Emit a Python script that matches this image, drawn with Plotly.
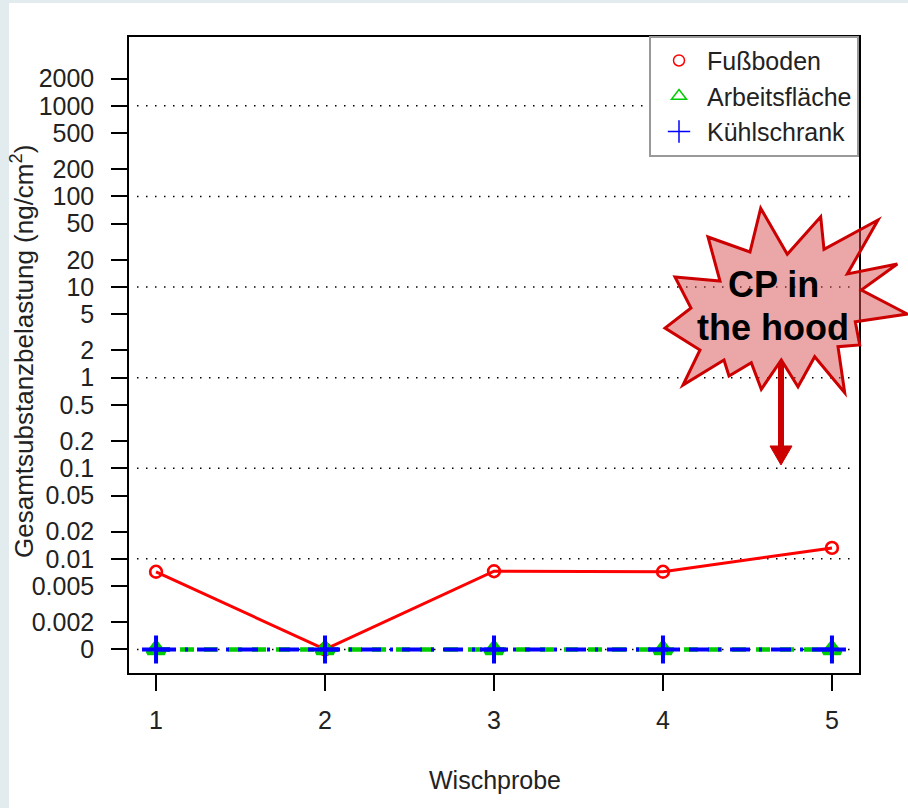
import plotly.graph_objects as go

# ---------------- data ----------------
samples = [1, 2, 3, 4, 5]
fussboden = [0.0072, 0.0, 0.0073, 0.0072, 0.0132]
arbeitsflaeche = [0.0, 0.0, 0.0, 0.0, 0.0]
kuehlschrank = [0.0, 0.0, 0.0, 0.0, 0.0]
series_names = ["Fußboden", "Arbeitsfläche", "Kühlschrank"]
ZERO_POS = 0.001  # where the "0" label sits on the log axis

y_tick_vals = [2000, 1000, 500, 200, 100, 50, 20, 10, 5, 2, 1, 0.5, 0.2, 0.1,
               0.05, 0.02, 0.01, 0.005, 0.002, 0.001]
y_tick_text = ["2000", "1000", "500", "200", "100", "50", "20", "10", "5", "2",
               "1", "0.5", "0.2", "0.1", "0.05", "0.02", "0.01", "0.005",
               "0.002", "0"]
grid_vals = [1000, 100, 10, 1, 0.1, 0.01, 0.001]
x_tick_vals = [1, 2, 3, 4, 5]
x_title = "Wischprobe"
y_title = "Gesamtsubstanzbelastung (ng/cm<sup>2</sup>)"
burst_text = ["CP in", "the hood"]

# ---------------- layout geometry ----------------
W, H = 908, 808
ML, MR, MT, MB = 129, 49, 37, 135
PW, PH = W - ML - MR, H - MT - MB


def px(x):
    return (x - ML) / PW


def py(y):
    return (H - MB - y) / PH


def zmap(v):
    return [ZERO_POS if val == 0 else val for val in v]


FONT = "Liberation Sans, Arial, Helvetica, sans-serif"
RED, GREEN, BLUE = "#ff0000", "#00cd00", "#0000ff"

fig = go.Figure()

# legend markers (thin, drawn underneath the thick plotted markers)
fig.add_trace(go.Scatter(x=samples, y=zmap(fussboden), mode="markers", name=series_names[0],
                         marker=dict(symbol="circle-open", size=11, color=RED, line=dict(width=1.5))))
fig.add_trace(go.Scatter(x=samples, y=zmap(arbeitsflaeche), mode="markers", name=series_names[1],
                         marker=dict(symbol="triangle-up-open", size=13, color=GREEN, line=dict(width=1.5))))
fig.add_trace(go.Scatter(x=samples, y=zmap(kuehlschrank), mode="markers", name=series_names[2],
                         marker=dict(symbol="cross-thin", size=17, color=BLUE,
                                     line=dict(width=1.5, color=BLUE))))

# actual plotted series
fig.add_trace(go.Scatter(x=samples, y=zmap(fussboden), mode="lines+markers", showlegend=False,
                         line=dict(color=RED, width=3),
                         marker=dict(symbol="circle-open", size=12, color=RED, line=dict(width=2.4))))
fig.add_trace(go.Scatter(x=samples, y=zmap(arbeitsflaeche), mode="lines+markers", showlegend=False,
                         line=dict(color=GREEN, width=4.5, dash="14px,10px"),
                         marker=dict(symbol="triangle-up-open", size=15, color=GREEN, line=dict(width=4))))
fig.add_trace(go.Scatter(x=samples, y=zmap(kuehlschrank), mode="lines+markers", showlegend=False,
                         line=dict(color=BLUE, width=4, dash="20px,9px,3px,9px"),
                         marker=dict(symbol="cross-thin", size=20, color=BLUE,
                                     line=dict(width=4, color=BLUE))))

shapes = []
# white panel on light page background
shapes.append(dict(type="rect", xref="paper", yref="paper", x0=px(9), x1=px(W + 5),
                   y0=py(H + 5), y1=py(3), fillcolor="white", line=dict(width=0), layer="below"))
# dotted reference lines
for g in grid_vals:
    shapes.append(dict(type="line", xref="paper", yref="y", x0=px(137), x1=px(855), y0=g, y1=g,
                       line=dict(color="black", width=1.5, dash="1.5px,7.5px"), layer="below"))

# starburst callout
burst = [(760.7, 208.3), (787.3, 254.3), (820.7, 216.7), (824, 249.3), (878, 220), (847.3, 274),
         (897.3, 264), (861.3, 290), (907.3, 314), (855.3, 321.7), (859.7, 345), (838, 346.7),
         (844.7, 392.7), (814.7, 356.7), (798, 386.7), (781.3, 360), (761.3, 389.3), (751.3, 362.7),
         (729, 376), (724, 360), (683, 385), (700, 350), (665, 328), (691, 308), (675, 277),
         (720, 281), (708, 237), (750, 252)]
path = "M " + " L ".join(f"{px(a):.5f},{py(b):.5f}" for a, b in burst) + " Z"
shapes.append(dict(type="path", xref="paper", yref="paper", path=path,
                   fillcolor="rgba(215,80,80,0.5)", line=dict(color="#cc0000", width=3), layer="above"))
# arrow
shapes.append(dict(type="line", xref="paper", yref="paper", x0=px(781), x1=px(781),
                   y0=py(362), y1=py(448), line=dict(color="#cc0000", width=6), layer="above"))
tri = [(770, 446), (792, 446), (781, 465)]
shapes.append(dict(type="path", xref="paper", yref="paper",
                   path="M " + " L ".join(f"{px(a):.5f},{py(b):.5f}" for a, b in tri) + " Z",
                   fillcolor="#cc0000", line=dict(color="#cc0000", width=1), layer="above"))

annotations = [
    dict(text=burst_text[0], xref="paper", yref="paper", x=px(773), y=py(284), showarrow=False,
         xanchor="center", yanchor="middle", font=dict(family=FONT, size=36, color="black", weight="bold")),
    dict(text=burst_text[1], xref="paper", yref="paper", x=px(773), y=py(327), showarrow=False,
         xanchor="center", yanchor="middle", font=dict(family=FONT, size=36, color="black", weight="bold")),
    dict(text=x_title, xref="paper", yref="paper", x=px(495), y=py(780), showarrow=False,
         xanchor="center", yanchor="middle", font=dict(family=FONT, size=25, color="#222222")),
    dict(text=y_title, xref="paper", yref="paper", x=px(23), y=py(352), showarrow=False, textangle=-90,
         xanchor="center", yanchor="middle", font=dict(family=FONT, size=26, color="#222222")),
]

fig.update_layout(
    width=W, height=H,
    margin=dict(l=ML, r=MR, t=MT, b=MB, pad=0),
    paper_bgcolor="#e2ebee", plot_bgcolor="rgba(0,0,0,0)",
    font=dict(family=FONT, size=25, color="#222222"),
    shapes=shapes, annotations=annotations,
    legend=dict(x=1, xanchor="right", y=1.002, yanchor="top", bgcolor="white",
                bordercolor="#999999", borderwidth=2, font=dict(size=25, color="#222222"),
                tracegroupgap=0, itemwidth=46),
    xaxis=dict(range=[0.84, 5.16], tickvals=x_tick_vals, ticks="outside", ticklen=16, tickwidth=1.5,
               tickcolor="black", showgrid=False, zeroline=False, showline=True, mirror=True,
               linecolor="black", linewidth=1.5, ticklabelstandoff=8,
               tickfont=dict(size=25, color="#222222")),
    yaxis=dict(type="log", range=[-3.26, 3.76], tickvals=y_tick_vals, ticktext=y_tick_text,
               ticks="outside", ticklen=16, tickwidth=1.5, tickcolor="black", showgrid=False,
               zeroline=False, showline=True, mirror=True, linecolor="black", linewidth=1.5,
               ticklabelstandoff=12, tickfont=dict(size=25, color="#222222")),
)

fig.write_html("out.html")
